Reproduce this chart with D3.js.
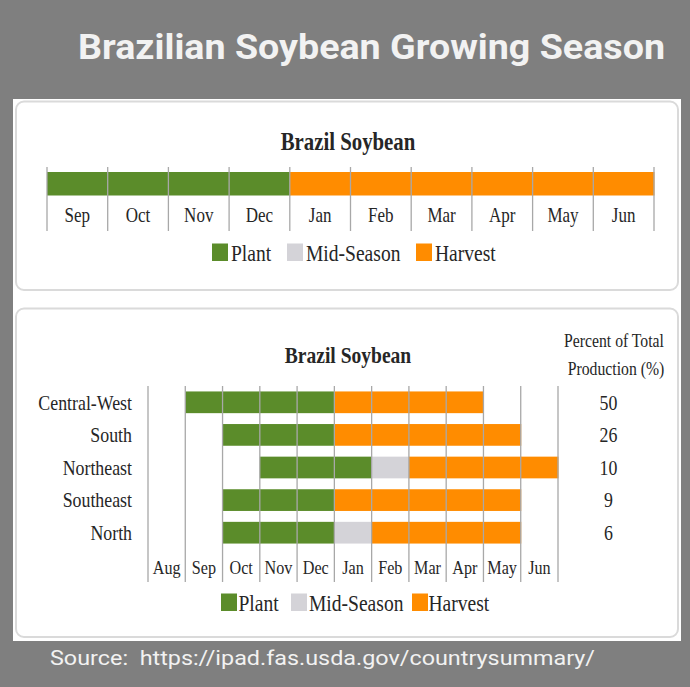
<!DOCTYPE html>
<html>
<head>
<meta charset="utf-8">
<script src="https://cdn.jsdelivr.net/npm/d3@7"></script>
<style>
  html, body { margin: 0; padding: 0; background: #7f7f7f; }
  svg { display: block; }
</style>
</head>
<body>
<svg id="chart" width="690" height="687"></svg>
<script>
// ---------------- DATA ----------------
const pageTitle = "Brazilian Soybean Growing Season";
const sourceText = "Source:  https://ipad.fas.usda.gov/countrysummary/";
const chartTitle = "Brazil Soybean";
const stageNames = ["Plant", "Mid-Season", "Harvest"];

const topMonths = ["Sep", "Oct", "Nov", "Dec", "Jan", "Feb", "Mar", "Apr", "May", "Jun"];
const topStages = ["Plant", "Plant", "Plant", "Plant", "Harvest", "Harvest", "Harvest", "Harvest", "Harvest", "Harvest"];

const regionMonths = ["Aug", "Sep", "Oct", "Nov", "Dec", "Jan", "Feb", "Mar", "Apr", "May", "Jun"];
const regions = ["Central-West", "South", "Northeast", "Southeast", "North"];
const percentOfTotal = [50, 26, 10, 9, 6];
const percentHeader = ["Percent of Total", "Production (%)"];
const centralWestStages = [null, "Plant", "Plant", "Plant", "Plant", "Harvest", "Harvest", "Harvest", "Harvest", null, null];
const southStages       = [null, null, "Plant", "Plant", "Plant", "Harvest", "Harvest", "Harvest", "Harvest", "Harvest", null];
const northeastStages   = [null, null, null, "Plant", "Plant", "Plant", "Mid-Season", "Harvest", "Harvest", "Harvest", "Harvest"];
const southeastStages   = [null, null, "Plant", "Plant", "Plant", "Harvest", "Harvest", "Harvest", "Harvest", "Harvest", null];
const northStages       = [null, null, "Plant", "Plant", "Plant", "Mid-Season", "Harvest", "Harvest", "Harvest", "Harvest", null];
const regionStages = [centralWestStages, southStages, northeastStages, southeastStages, northStages];

// ---------------- STYLE ----------------
const color = d3.scaleOrdinal().domain(stageNames).range(["#5b8c2a", "#d4d3d8", "#ff8c00"]);
const SERIF = "'Liberation Serif', 'Times New Roman', serif";
const SX = 0.85;   // horizontal compression of the serif chart text
const gridColor = "#a8a8a8";
const textColor = "#262626";

const svg = d3.select("#chart");

function label(g, x, y, str, size, anchor, weight) {
  return g.append("text")
    .attr("transform", `translate(${x},${y}) scale(${SX},1)`)
    .attr("text-anchor", anchor || "middle")
    .attr("dy", "0.35em")
    .style("font-family", SERIF)
    .style("font-size", size + "px")
    .style("font-weight", weight || "normal")
    .attr("fill", textColor)
    .text(str);
}

// ---------------- PAGE ----------------
svg.append("rect").attr("width", 690).attr("height", 687).attr("fill", "#7f7f7f");

svg.append("text")
  .attr("x", 78).attr("y", 59)
  .attr("textLength", 587).attr("lengthAdjust", "spacingAndGlyphs")
  .style("font-family", "Roboto, 'Open Sans', sans-serif")
  .style("font-size", "35px").style("font-weight", "bold")
  .attr("fill", "#f2f2f2")
  .text(pageTitle);

svg.append("text")
  .attr("x", 50).attr("y", 665)
  .attr("textLength", 545).attr("lengthAdjust", "spacingAndGlyphs")
  .style("font-family", "Roboto, 'Open Sans', sans-serif")
  .style("font-size", "21px")
  .style("white-space", "pre")
  .attr("xml:space", "preserve")
  .attr("fill", "#f2f2f2")
  .text(sourceText);

// white backdrop + cards
svg.append("rect").attr("x", 13).attr("y", 99).attr("width", 668).attr("height", 542).attr("fill", "#ffffff");
[[16, 101.5, 662, 188.5], [16, 308.5, 662, 328.5]].forEach(c => {
  svg.append("rect")
    .attr("x", c[0]).attr("y", c[1]).attr("width", c[2]).attr("height", c[3])
    .attr("rx", 8).attr("ry", 8)
    .attr("fill", "#ffffff").attr("stroke", "#dadada").attr("stroke-width", 2);
});

// legend helper
function legend(g, y, boxes, texts) {
  stageNames.forEach((s, i) => {
    g.append("rect").attr("x", boxes[i]).attr("y", y - 8.5).attr("width", 16).attr("height", 17.5).attr("fill", color(s));
    label(g, texts[i], y + 0.5, s, 23, "start");
  });
}

// ---------------- TOP CHART ----------------
const gTop = svg.append("g");
label(gTop, 348, 141, chartTitle, 24.5, "middle", "bold");

const xTop = d3.scaleBand().domain(topMonths).range([47, 654]).padding(0);
const topBarY = 172, topBarH = 23.5;

gTop.selectAll("rect.seg").data(topMonths).join("rect")
  .attr("class", "seg")
  .attr("x", d => xTop(d)).attr("y", topBarY)
  .attr("width", xTop.bandwidth() + 0.5).attr("height", topBarH)
  .attr("fill", (d, i) => color(topStages[i]));

const topEdges = topMonths.map(m => xTop(m)).concat([xTop.range()[1]]);
gTop.selectAll("line.grid").data(topEdges).join("line")
  .attr("class", "grid")
  .attr("x1", d => d).attr("x2", d => d)
  .attr("y1", 167).attr("y2", 231)
  .attr("stroke", gridColor).attr("stroke-width", 1.3);

topMonths.forEach(m => label(gTop, xTop(m) + xTop.bandwidth() / 2, 215, m, 20, "middle"));

legend(gTop, 252, [212, 287, 416], [231, 306, 435]);

// ---------------- BOTTOM CHART ----------------
const gBot = svg.append("g");
label(gBot, 348, 354.5, chartTitle, 23, "middle", "bold");
label(gBot, 614, 341, percentHeader[0], 18.5, "middle");
label(gBot, 616, 368.5, percentHeader[1], 18.5, "middle");

const xBot = d3.scaleBand().domain(regionMonths).range([148, 558]).padding(0);
const yBot = d3.scaleBand().domain(regions).range([386, 549]).paddingInner(0.334).paddingOuter(0.167);

regions.forEach((r, ri) => {
  const cells = regionStages[ri].map((s, mi) => ({ s, m: regionMonths[mi] })).filter(c => c.s);
  gBot.selectAll(null).data(cells).join("rect")
    .attr("x", c => xBot(c.m)).attr("y", yBot(r))
    .attr("width", xBot.bandwidth() + 0.5).attr("height", yBot.bandwidth())
    .attr("fill", c => color(c.s));
  label(gBot, 132, yBot(r) + yBot.bandwidth() / 2, r, 21, "end");
  label(gBot, 608.5, yBot(r) + yBot.bandwidth() / 2, percentOfTotal[ri], 21, "middle");
});

const botEdges = regionMonths.map(m => xBot(m)).concat([xBot.range()[1]]);
gBot.selectAll("line.grid").data(botEdges).join("line")
  .attr("class", "grid")
  .attr("x1", d => d).attr("x2", d => d)
  .attr("y1", 386).attr("y2", 582)
  .attr("stroke", gridColor).attr("stroke-width", 1.3);

regionMonths.forEach(m => label(gBot, xBot(m) + xBot.bandwidth() / 2, 567, m, 19, "middle"));

legend(gBot, 602, [221, 291, 412], [238.5, 309, 428.5]);
</script>
</body>
</html>
